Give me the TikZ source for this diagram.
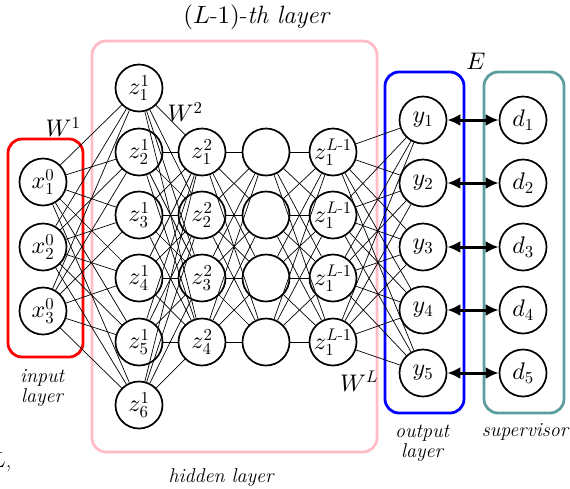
\documentclass[tikz,border=0pt]{standalone}
\usepackage{amsmath}
\DeclareFontFamily{OML}{cmm}{\skewchar\font'177}
\DeclareFontShape{OML}{cmm}{m}{it}{<->cmmi10}{}
\DeclareFontFamily{OT1}{cmr}{\hyphenchar\font45}
\DeclareFontShape{OT1}{cmr}{m}{n}{<->cmr10}{}
\DeclareFontFamily{OMS}{cmsy}{\skewchar\font'60}
\DeclareFontShape{OMS}{cmsy}{m}{n}{<->cmsy10}{}
\usetikzlibrary{arrows.meta}
\definecolor{pinkbox}{RGB}{255,188,198}
\definecolor{tealbox}{RGB}{92,158,160}
\begin{document}
\begin{tikzpicture}[x=1pt,y=-1pt,
  neuron/.style={circle,draw,line width=1.7pt,fill=white,minimum size=47pt,inner sep=0pt,font=\fontsize{24}{26}\selectfont},
  conn/.style={line width=0.7pt},
  groupbox/.style={rounded corners=14pt,line width=2.8pt},
  biarrow/.style={line width=3pt,{Latex[length=13pt,width=12pt]}-{Latex[length=13pt,width=12pt]}},
  lbl/.style={font=\fontsize{20}{22}\selectfont\itshape,align=center},
  wlbl/.style={font=\fontsize{24}{26}\selectfont}]
\useasboundingbox (0,0) rectangle (570,488);

% group boxes
\draw[groupbox,draw=red] (8,139) rectangle (83,357);
\draw[groupbox,draw=pinkbox] (92,41) rectangle (377,452);
\draw[groupbox,draw=blue] (385,72) rectangle (464,413);
\draw[groupbox,draw=tealbox] (484,72) rectangle (564,413);

% input layer
\node[neuron] (x1) at (43,182) {$x_1^0$};
\node[neuron] (x2) at (43,247) {$x_2^0$};
\node[neuron] (x3) at (43,311) {$x_3^0$};

% hidden layer 1
\node[neuron] (a1) at (139,88) {$z_1^1$};
\node[neuron] (a2) at (139,152) {$z_2^1$};
\node[neuron] (a3) at (139,215) {$z_3^1$};
\node[neuron] (a4) at (139,278) {$z_4^1$};
\node[neuron] (a5) at (139,342) {$z_5^1$};
\node[neuron] (a6) at (139,405) {$z_6^1$};

% hidden layer 2
\node[neuron] (b1) at (202,152) {$z_1^2$};
\node[neuron] (b2) at (202,215) {$z_2^2$};
\node[neuron] (b3) at (202,278) {$z_3^2$};
\node[neuron] (b4) at (202,342) {$z_4^2$};

% hidden layer 3 (empty)
\node[neuron] (c1) at (266,152) {};
\node[neuron] (c2) at (266,215) {};
\node[neuron] (c3) at (266,278) {};
\node[neuron] (c4) at (266,342) {};

% layer L-1
\node[neuron] (e1) at (333,152) {$z_1^{L\text{-}1}$};
\node[neuron] (e2) at (333,215) {$z_1^{L\text{-}1}$};
\node[neuron] (e3) at (333,278) {$z_1^{L\text{-}1}$};
\node[neuron] (e4) at (333,342) {$z_1^{L\text{-}1}$};

% output layer
\node[neuron] (y1) at (423,120) {$y_1$};
\node[neuron] (y2) at (423,183) {$y_2$};
\node[neuron] (y3) at (423,247) {$y_3$};
\node[neuron] (y4) at (423,310) {$y_4$};
\node[neuron] (y5) at (423,373) {$y_5$};

% supervisor
\node[neuron] (d1) at (523,120) {$d_1$};
\node[neuron] (d2) at (523,183) {$d_2$};
\node[neuron] (d3) at (523,247) {$d_3$};
\node[neuron] (d4) at (523,310) {$d_4$};
\node[neuron] (d5) at (523,373) {$d_5$};

% connections
\foreach \i in {1,2,3} \foreach \j in {1,...,6} \draw[conn] (x\i) -- (a\j);
\foreach \i in {1,...,6} \foreach \j in {1,...,4} \draw[conn] (a\i) -- (b\j);
\foreach \i in {1,...,4} \foreach \j in {1,...,4} \draw[conn] (b\i) -- (c\j);
\foreach \i in {1,...,4} \foreach \j in {1,...,4} \draw[conn] (c\i) -- (e\j);
\foreach \i in {1,...,4} \foreach \j in {1,...,5} \draw[conn] (e\i) -- (y\j);

% error arrows
\foreach \i in {1,...,5} \draw[biarrow] (y\i) -- (d\i);

% labels
\node[font=\fontsize{25}{27}\selectfont] (title) at (257,17) {$(L$-$1)$-\textit{th layer}};
\node[wlbl] (w1) at (63,127) {$W^1$};
\node[wlbl] (w2) at (185,112) {$W^2$};
\node[wlbl] (wl) at (359,381) {$W^L$};
\node[wlbl] (E) at (476,61) {$E$};
\node[lbl] (inl) at (42,388) {input\\[-2pt]layer};
\node[lbl] (hidl) at (221,478) {hidden layer};
\node[lbl] (outl) at (422,443) {output\\[-2pt]layer};
\node[lbl] (supl) at (525,432) {supervisor};
\node[font=\fontsize{22}{24}\selectfont,anchor=east] (frag) at (15,462) {$L$,};
\end{tikzpicture}
\end{document}
